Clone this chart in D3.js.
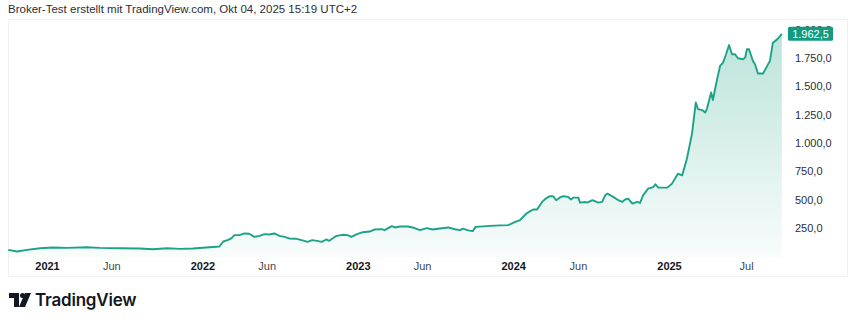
<!DOCTYPE html>
<html><head><meta charset="utf-8">
<script src="https://cdn.jsdelivr.net/npm/d3@7"></script>
<style>
html,body{margin:0;padding:0;background:#fff;}
svg{display:block;}
</style></head>
<body>
<svg id="c" width="850" height="324"></svg>
<script>
// ---- data ----
const dates = ["2020-10-02","2020-10-23","2020-11-15","2020-12-16","2021-01-15","2021-02-17","2021-04-05","2021-05-05","2021-06-21","2021-08-07","2021-09-07","2021-10-10","2021-11-09","2021-12-10","2022-01-10","2022-02-10","2022-02-19","2022-03-01","2022-03-10","2022-03-17","2022-03-29","2022-04-10","2022-04-21","2022-05-03","2022-05-15","2022-05-27","2022-06-07","2022-06-19","2022-07-01","2022-07-13","2022-07-24","2022-08-10","2022-08-22","2022-09-05","2022-09-16","2022-09-28","2022-10-08","2022-10-19","2022-10-26","2022-11-12","2022-11-26","2022-12-08","2022-12-17","2022-12-30","2023-01-13","2023-01-29","2023-02-10","2023-02-26","2023-03-05","2023-03-22","2023-03-29","2023-04-10","2023-04-29","2023-05-10","2023-05-27","2023-06-12","2023-06-26","2023-07-13","2023-08-01","2023-08-17","2023-08-29","2023-09-05","2023-09-17","2023-09-28","2023-10-05","2023-10-22","2023-11-07","2023-12-01","2023-12-20","2024-01-06","2024-01-17","2024-02-01","2024-02-10","2024-02-17","2024-02-26","2024-03-09","2024-03-19","2024-03-28","2024-04-04","2024-04-11","2024-04-20","2024-04-28","2024-05-09","2024-05-16","2024-05-21","2024-06-02","2024-06-06","2024-06-18","2024-06-23","2024-07-05","2024-07-19","2024-07-28","2024-08-04","2024-08-09","2024-08-16","2024-08-23","2024-09-04","2024-09-13","2024-09-20","2024-09-27","2024-10-07","2024-10-18","2024-10-25","2024-11-01","2024-11-13","2024-11-25","2024-11-30","2024-12-07","2024-12-28","2025-01-08","2025-01-22","2025-02-01","2025-02-12","2025-02-24","2025-03-05","2025-03-10","2025-03-20","2025-03-27","2025-03-31","2025-04-10","2025-04-14","2025-04-24","2025-05-01","2025-05-08","2025-05-15","2025-05-22","2025-05-29","2025-06-05","2025-06-12","2025-06-24","2025-06-29","2025-07-03","2025-07-08","2025-07-17","2025-07-22","2025-07-29","2025-08-10","2025-08-26","2025-09-02","2025-09-12","2025-09-19","2025-09-23"];
const prices = [58,44,58,73,79,76,82,76,73,70,64,73,67,70,79,88,132,144,160,188,188,203,200,173,182,197,194,203,182,173,159,156,144,129,144,138,129,150,138,182,191,188,173,197,214,220,238,241,232,267,256,264,264,256,232,250,238,247,256,240,232,245,230,224,261,265,270,274,276,305,320,379,400,414,414,481,515,531,531,496,520,531,525,502,519,519,475,480,475,496,475,481,539,554,540,525,496,481,502,510,466,481,472,539,598,612,636,607,607,642,729,715,861,1080,1357,1299,1290,1269,1299,1445,1379,1563,1679,1708,1782,1863,1782,1782,1747,1738,1753,1826,1826,1724,1694,1612,1612,1724,1884,1913,1942,1962.5];
const yTicks = [250,500,750,1000,1250,1500,1750,2000];
const xTickDates = ["2021-01-01","2021-06-01","2022-01-01","2022-06-01","2023-01-01","2023-06-01","2024-01-01","2024-06-01","2025-01-01","2025-07-01"];
const xTickLabels = ["2021","Jun","2022","Jun","2023","Jun","2024","Jun","2025","Jul"];
const lastValue = 1962.5;
const titleText = "Broker-Test erstellt mit TradingView.com, Okt 04, 2025 15:19 UTC+2";

// ---- setup ----
const parse = d3.utcParse("%Y-%m-%d");
const data = dates.map((d,i)=>({date:parse(d), v:prices[i]}));
const svg = d3.select("#c");
const FONT = "'Liberation Sans', Arial, sans-serif";
const green = "#1ba287";

const x = d3.scaleUtc().domain([parse("2021-01-01"), parse("2025-01-01")]).range([47, 669]);
const y = d3.scaleLinear().domain([0, 2000]).range([256.5, 29.5]);
const plotBottom = 257;

// title
svg.append("text").attr("x",8).attr("y",13).attr("font-family",FONT).attr("font-size",11.5)
  .attr("fill","#2a2e39").text(titleText);

// frame
svg.append("rect").attr("x",8.5).attr("y",19.5).attr("width",839).attr("height",257)
  .attr("fill","none").attr("stroke","#eef0f3");

// gradient
const defs = svg.append("defs");
const grad = defs.append("linearGradient").attr("id","g").attr("gradientUnits","userSpaceOnUse")
  .attr("x1",0).attr("x2",0).attr("y1",y(2000)).attr("y2",plotBottom);
grad.append("stop").attr("offset",0).attr("stop-color",green).attr("stop-opacity",0.30);
grad.append("stop").attr("offset",1).attr("stop-color",green).attr("stop-opacity",0.03);

const area = d3.area().x(d=>x(d.date)).y0(plotBottom).y1(d=>y(d.v));
const line = d3.line().x(d=>x(d.date)).y(d=>y(d.v));

svg.append("path").datum(data).attr("d",area).attr("fill","url(#g)");
svg.append("path").datum(data).attr("d",line).attr("fill","none")
  .attr("stroke",green).attr("stroke-width",1.9).attr("stroke-linejoin","round");

// y axis (right)
const loc = d3.formatLocale({decimal:",", thousands:".", grouping:[3], currency:["","€"]});
const fmt = loc.format(",.1f");
const yAxis = d3.axisRight(y).tickValues(yTicks).tickSize(0).tickPadding(0).tickFormat(fmt);
const gy = svg.append("g").attr("transform","translate(795,0)").call(yAxis);
gy.select(".domain").remove();
gy.selectAll("text").attr("font-family",FONT).attr("font-size",11).attr("fill","#2a2e39");

// last value label (drawn over the 2.000,0 label, as in the original)
const ly = y(lastValue);
svg.append("rect").attr("x",788).attr("y",ly-7).attr("width",45).attr("height",14)
  .attr("rx",1.5).attr("fill","#119b80");
svg.append("text").attr("x",810.5).attr("y",ly).attr("dy","0.35em").attr("text-anchor","middle")
  .attr("font-family",FONT).attr("font-size",11).attr("fill","#fff").text(fmt(lastValue));

// x axis
const xAxis = d3.axisBottom(x).tickValues(xTickDates.map(parse)).tickSize(0).tickPadding(0)
  .tickFormat((d,i)=>xTickLabels[i]);
const gx = svg.append("g").attr("transform","translate(0,262)").call(xAxis);
gx.select(".domain").remove();
gx.selectAll("text").attr("font-family",FONT).attr("font-size",11)
  .attr("font-weight",(d,i)=>/^\d/.test(xTickLabels[i])?"bold":"normal")
  .attr("fill",(d,i)=>/^\d/.test(xTickLabels[i])?"#131722":"#434651");

// TradingView logo
const logo = svg.append("g").attr("fill","#131722");
logo.append("path").attr("d","M9,293 H19 V307 H14 V298 H9 Z");
logo.append("circle").attr("cx",22.5).attr("cy",295.5).attr("r",2.5);
logo.append("path").attr("d","M25,293 H31 L25,307 H19 Z");
svg.append("text").attr("x",35).attr("y",306).attr("font-family","Inter, 'Open Sans', sans-serif")
  .attr("font-size",17).attr("font-weight",600).attr("fill","#131722").attr("letter-spacing",-0.2)
  .text("TradingView");
</script>
</body></html>
